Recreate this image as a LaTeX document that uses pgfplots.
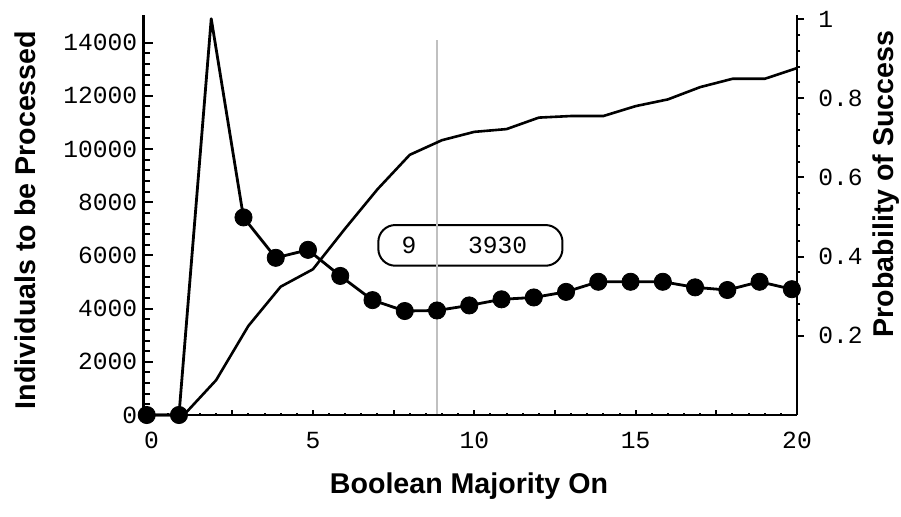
\documentclass[border=0pt]{standalone}
\usepackage{fontspec}
\setsansfont{Liberation Sans}
\setmonofont{Liberation Mono}
\usepackage{pgfplots}
\pgfplotsset{compat=1.18}
\usepackage{pgfplotstable}
\definecolor{lgray}{RGB}{192,192,192}

\pgfplotstableread{
x y
0 0
1 0
2 14900
3 7430
4 5910
5 6210
6 5230
7 4320
8 3910
9 3930
10 4120
11 4350
12 4420
13 4630
14 5010
15 5010
16 5010
17 4800
18 4700
19 5010
20 4730
}\indiv

\pgfplotstableread{
x p
0 0
1 0
2 0.088
3 0.225
4 0.324
5 0.368
6 0.471
7 0.570
8 0.657
9 0.694
10 0.715
11 0.722
12 0.751
13 0.755
14 0.755
15 0.780
16 0.797
17 0.828
18 0.849
19 0.849
20 0.876
}\prob

\newcommand\tickfont{\ttfamily\fontsize{12.3}{14}\selectfont}
\newcommand\labfont{\sffamily\bfseries\fontsize{14.3}{17}\selectfont}

\begin{document}
\begin{tikzpicture}
\pgfplotsset{base/.style={width=326.75pt,height=200pt,scale only axis,clip=false,
  scaled x ticks=false, scaled y ticks=false,
  tick style={line width=1pt,black}},
  noarrow/.style={x axis line style={-,line width=1.4pt,black}, y axis line style={-,line width=1.4pt,black},
  every outer x axis line/.append style={-}, every outer y axis line/.append style={-}}}

% individuals (left axis)
\begin{axis}[base, axis y line=left, axis x line=none, noarrow,
  xmin=-0.1, xmax=20.16, ymin=0, ymax=15040, xtick=\empty,
  ytick={0,2000,4000,6000,8000,10000,12000,14000},
  yticklabels={0,2000,4000,6000,8000,10000,12000,14000},
  minor y tick num=4, tick align=inside,
  major tick length=5pt, minor tick length=3.5pt,
  yticklabel style={font=\tickfont, inner sep=0pt, xshift=-3pt},
  ylabel={Individuals to be Processed},
  every axis y label/.style={at={(axis description cs:-0.1813,0.4875)}, rotate=90, anchor=center, font=\labfont}]
\addplot[line width=1.4pt, black, no marks, line join=round] table[x=x,y=y] {\indiv};
\addplot[only marks, mark=*, mark size=4.3pt, black, skip coords between index={2}{3}] table[x=x,y=y] {\indiv};
\draw[line width=1pt, rounded corners=8.5pt] (axis cs:7.18,5613) rectangle (axis cs:12.89,7143);
\node[font=\tickfont, inner sep=0pt] at (axis cs:8.13,6391) {9};
\node[font=\tickfont, inner sep=0pt] at (axis cs:10.88,6391) {3930};
\addplot[line width=1pt, lgray, no marks] coordinates {(9,0) (9,14100)};
\end{axis}

% x axis
\begin{axis}[base, axis x line=bottom, axis y line=none, noarrow,
  xmin=-0.25, xmax=20, ymin=0, ymax=1, ytick=\empty,
  xtick={0,2.5,5,7.5,10,12.5,15,17.5,20},
  xticklabels={0,,5,,10,,15,,20},
  minor x tick num=4, tick align=inside,
  major tick length=2.5pt, minor tick length=1.2pt,
  xticklabel style={font=\tickfont, inner sep=0pt, yshift=-8.5pt, anchor=north},
  xlabel={Boolean Majority On},
  every axis x label/.style={at={(axis description cs:0.498,-0.178)}, anchor=center, font=\labfont}]
\end{axis}

% probability (right axis)
\begin{axis}[base, axis y line=right, axis x line=none, noarrow,
  xmin=-0.25, xmax=20, ymin=0, ymax=1.0101, xtick=\empty,
  ytick={0.2,0.4,0.6,0.8,1},
  yticklabels={0.2,0.4,0.6,0.8,1},
  minor y tick num=4, tick align=outside,
  major tick length=3.5pt, minor tick length=1.5pt,
  yticklabel style={font=\tickfont, inner sep=0pt, anchor=west, xshift=7pt},
  ylabel={Probability of Success},
  every axis y label/.style={at={(axis description cs:1.1362,0.5775)}, rotate=90, anchor=center, font=\labfont}]
\addplot[line width=1.3pt, black, no marks, line join=round] table[x=x,y=p] {\prob};
\end{axis}

\pgfresetboundingbox
\path[use as bounding box] (-71.75pt,-50.5pt) rectangle (378.75pt,207.5pt);
\end{tikzpicture}
\end{document}
